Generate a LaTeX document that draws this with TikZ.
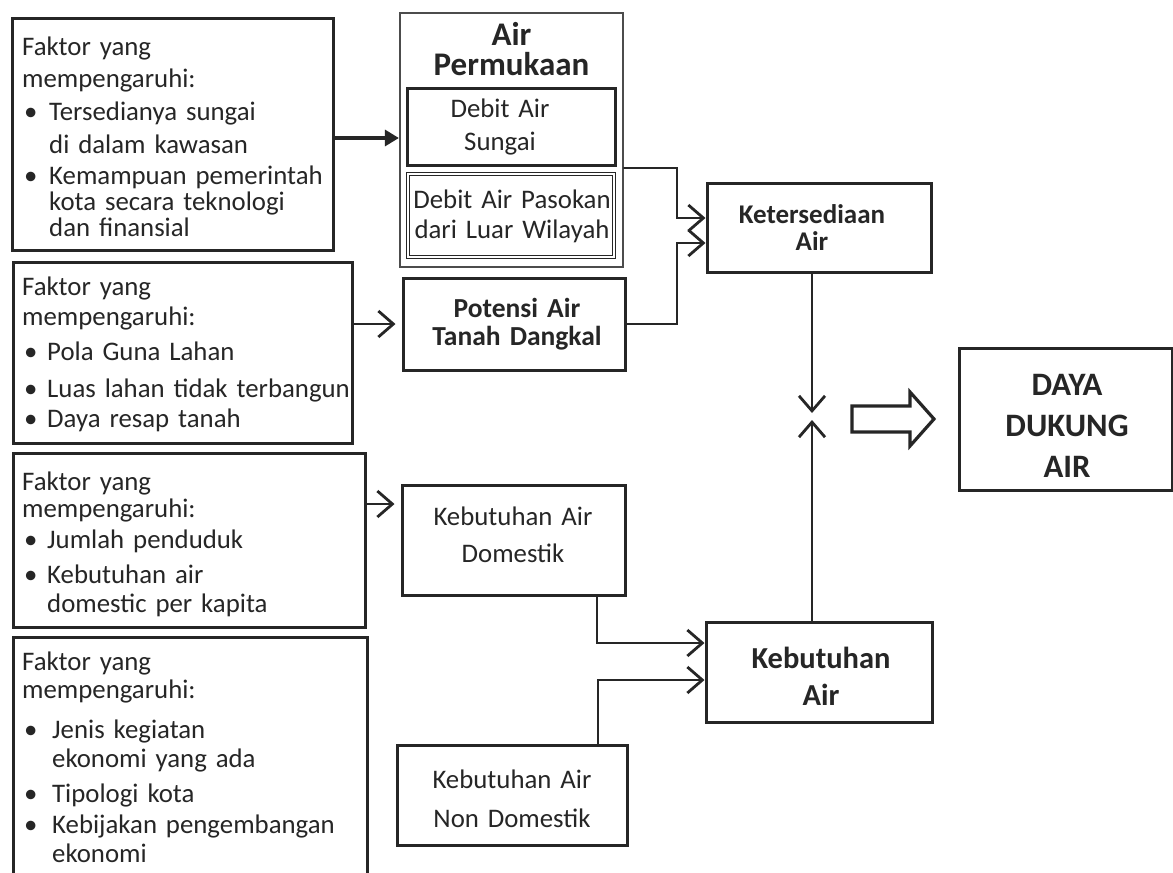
\documentclass[tikz,border=0pt]{standalone}
\usepackage{fontspec}
\setmainfont{Carlito}
\usetikzlibrary{arrows.meta}
% font size / fixed baseline skip helper
\newcommand\fsz[2]{\fontsize{#1pt}{#2pt}\selectfont\lineskiplimit=-100pt\lineskip=0pt}
% bullet of a given indent
\newcommand\bu[1]{\makebox[#1][l]{\hspace*{2pt}\textbullet}}
\begin{document}
\begin{tikzpicture}[x=1pt,y=-1pt,
  box/.style={draw=black!85, line width=3pt, rectangle, inner sep=0pt},
  lst/.style={anchor=base west, inner sep=0pt, text width=#1, align=left,
              font={\fsz{26.8}{25}}, text=black!85},
  ctr/.style={anchor=base, inner sep=0pt, text width=250pt, align=center, text=black!85},
  wire/.style={line width=2.8pt, draw=black!85, line cap=round, line join=miter},
  openhead/.style={wire, -{Straight Barb[length=15pt,width=26pt]}},
  solidhead/.style={line width=3.2pt, draw=black!85, -{Triangle[length=14pt,width=16pt]}}
]
\useasboundingbox (0,0) rectangle (1173,873);
\fill[white] (0,0) rectangle (1173,873);

% ---------- factor boxes on the left ----------
\node[box, minimum width=321pt, minimum height=232pt] (f1) at (172.5,134) {};
\node[box, minimum width=339pt, minimum height=181pt] (f2) at (182.5,352.5) {};
\node[box, minimum width=352pt, minimum height=174pt] (f3) at (189,540) {};
\node[box, minimum width=354pt, minimum height=273pt] (f4) at (190,773.5) {};

\node[lst=320pt] (t1) at (22,55) {Faktor yang\\[7pt]
  mempengaruhi:\\[8pt]
  \bu{27pt}Tersedianya sungai\\[8pt]
  \hspace*{27pt}di dalam kawasan\\[6pt]
  \bu{27pt}Kemampuan pemerintah\\[1pt]
  \hspace*{27pt}kota secara teknologi\\[1pt]
  \hspace*{27pt}dan finansial};

\node[lst=330pt] (t2) at (22,295) {Faktor yang\\[5pt]
  mempengaruhi:\\[10pt]
  \bu{25pt}Pola Guna Lahan\\[12pt]
  \bu{25pt}Luas lahan tidak terbangun\\[5pt]
  \bu{25pt}Daya resap tanah};

\node[lst=330pt] (t3) at (22,490) {Faktor yang\\[2pt]
  mempengaruhi:\\[6pt]
  \bu{25pt}Jumlah penduduk\\[10pt]
  \bu{25pt}Kebutuhan air\\[4pt]
  \hspace*{25pt}domestic per kapita};

\node[lst=335pt] (t4) at (22,670) {Faktor yang\\[3pt]
  mempengaruhi:\\[15pt]
  \bu{30pt}Jenis kegiatan\\[4pt]
  \hspace*{30pt}ekonomi yang ada\\[10pt]
  \bu{30pt}Tipologi kota\\[6pt]
  \bu{30pt}Kebijakan pengembangan\\[4pt]
  \hspace*{30pt}ekonomi};

% ---------- middle column ----------
\node[box, draw=black!70, line width=2.2pt, minimum width=223pt, minimum height=254pt] (ap) at (511.5,140) {};
\node[ctr, font={\fsz{33}{30}\bfseries}] (apt) at (511.5,45) {Air\\Permukaan};

\node[box, minimum width=208pt, minimum height=77pt] (ds) at (511,126.5) {};
\node[ctr, font={\fsz{26.8}{33}}] (dst) at (500,117) {Debit Air\\Sungai};

\node[box, double, double distance=1.6pt, line width=1.6pt, minimum width=206pt, minimum height=83pt] (dp) at (511,215.5) {};
\node[ctr, font={\fsz{26.8}{30}}] (dpt) at (512,208) {Debit Air Pasokan\\dari Luar Wilayah};

\node[box, minimum width=222pt, minimum height=92pt] (pot) at (514,324) {};
\node[ctr, font={\fsz{27.5}{28}\bfseries}] (pott) at (517,317) {Potensi Air\\Tanah Dangkal};

\node[box, minimum width=223pt, minimum height=110pt] (dom) at (513.5,540) {};
\node[ctr, font={\fsz{26.8}{37}}] (domt) at (513,525) {Kebutuhan Air\\Domestik};

\node[box, minimum width=230pt, minimum height=100pt] (ndom) at (512,795) {};
\node[ctr, font={\fsz{26.8}{39}}] (ndomt) at (512,788) {Kebutuhan Air\\Non Domestik};

% ---------- right column ----------
\node[box, minimum width=224pt, minimum height=89pt] (ket) at (819,227.5) {};
\node[ctr, font={\fsz{27}{27}\bfseries}] (kett) at (812,223) {Ketersediaan\\Air};

\node[box, minimum width=226pt, minimum height=100pt] (keb) at (819,672) {};
\node[ctr, font={\fsz{30.5}{37}\bfseries}] (kebt) at (821,668) {Kebutuhan\\Air};

\node[box, minimum width=213pt, minimum height=142pt] (ddk) at (1065.5,419) {};
\node[ctr, font={\fsz{32.7}{41}\bfseries}] (ddkt) at (1067,395) {DAYA\\DUKUNG\\AIR};

% ---------- connectors ----------
\coordinate (s1) at ([yshift=-4pt]f1.east);
\draw[solidhead] (s1) -- (s1 -| ap.west);

\draw[openhead, shorten >=6pt] (f2.east |- pot) -- (pot);
\coordinate (s3) at ([yshift=36pt]f3.east);
\draw[openhead, shorten >=6pt] (s3) -- (s3 -| dom.west);

% supply side merge into Ketersediaan Air
\coordinate (jx) at (677,0);
\coordinate (a1) at ([yshift=-28pt]ap.east);
\coordinate (k1) at ([yshift=9.5pt]ket.west);
\coordinate (k2) at ([yshift=-15.5pt]ket.west);
\draw[openhead] (a1) -- (a1 -| jx) |- (k1);
\draw[openhead] (pot.east) -- (pot.east -| jx) |- (k2);

% demand side merge into Kebutuhan Air
\coordinate (jd) at (597,0);
\coordinate (jn) at (598,0);
\coordinate (k3) at ([yshift=29pt]keb.west);
\coordinate (k4) at ([yshift=-8pt]keb.west);
\draw[openhead] (dom.south -| jd) |- (k3);
\draw[openhead] (ndom.north -| jn) |- (k4);

% supply and demand meeting point
\coordinate (mid) at (812,416.5);
\draw[openhead] (ket.south -| mid) -- ([yshift=3.5pt]mid);
\draw[openhead] (keb.north -| mid) -- ([yshift=-3.5pt]mid);

% hollow block arrow towards the result
\draw[line width=3.2pt, draw=black!85, line join=miter, fill=white]
  (852,406) -- (910,406) -- (910,392) -- (934,419) -- (910,446) -- (910,432) -- (852,432) -- cycle;
\end{tikzpicture}
\end{document}
